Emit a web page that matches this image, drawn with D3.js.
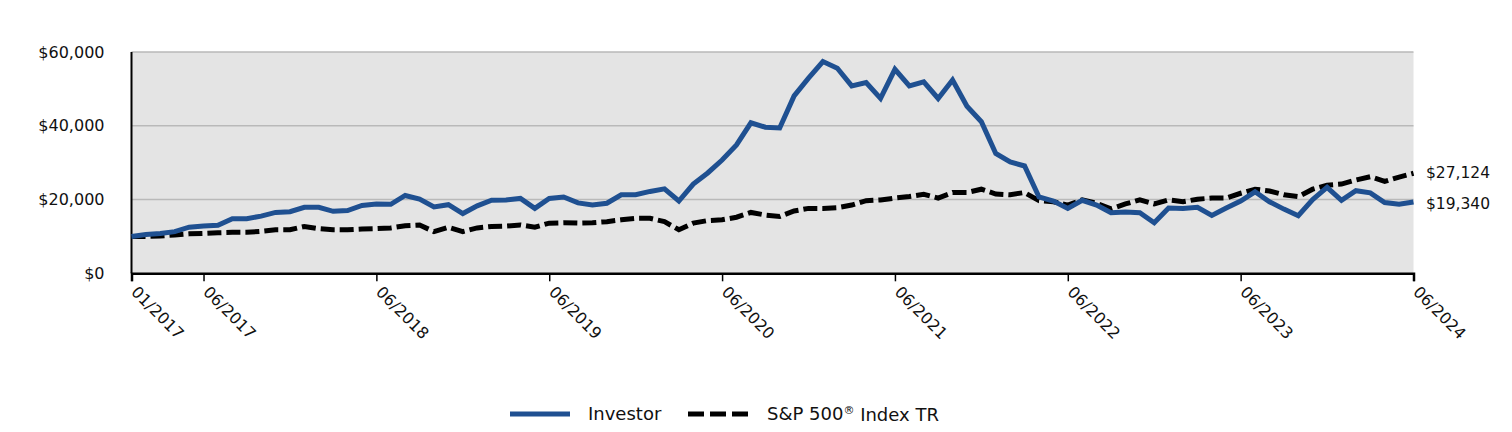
<!DOCTYPE html>
<html><head><meta charset="utf-8">
<script src="https://cdn.jsdelivr.net/npm/d3@7"></script>
<style>body{margin:0;background:#fff}svg{display:block}</style>
</head><body><svg id="c" width="1512" height="432"></svg>
<script>
const tickLabels = ["01/2017","06/2017","06/2018","06/2019","06/2020","06/2021","06/2022","06/2023","06/2024"];
const tickIndex = [0,5,17,29,41,53,65,77,89];
const yTicks = [0,20000,40000,60000];
const seriesNames = ["Investor","S&P 500\u00AE Index TR"];
const investor = [10000,10500,10800,11300,12500,12800,13000,14800,14800,15500,16500,16700,17900,17900,16800,17000,18400,18800,18700,21100,20100,18000,18600,16200,18300,19800,19900,20300,17600,20300,20700,19100,18500,19000,21300,21300,22200,22900,19600,24200,27200,30700,34800,40800,39600,39400,48100,52900,57400,55600,50800,51700,47400,55300,50800,51900,47400,52400,45300,41100,32500,30200,29100,20700,19600,17600,19800,18500,16400,16600,16400,13700,17700,17600,17900,15700,17700,19600,22100,19400,17400,15600,20000,23300,19800,22400,21800,19200,18700,19340];
const sp500 = [10000,10000,10100,10400,10700,10800,11000,11100,11100,11400,11800,11800,12700,12100,11800,11800,12000,12100,12300,12900,13100,11300,12500,11300,12300,12700,12800,13100,12500,13600,13700,13600,13700,14000,14500,14900,14900,14000,11800,13600,14300,14500,15200,16500,15800,15400,16900,17600,17600,17800,18500,19700,19900,20400,20800,21400,20400,21900,21900,22800,21500,21300,21900,19700,19400,18500,19900,19000,17500,18800,19900,18800,19900,19400,20100,20400,20400,21700,22800,22300,21300,20800,22800,23900,24200,25300,26200,24900,26100,27124];
const endLabels = ["$27,124","$19,340"];
const colors = ["#1f5091","#000000"];

const svg = d3.select("#c");
const font = "DejaVu Sans";
const m = {l:131.5, r:1413.5, t:52, b:273.3};
const x = d3.scaleLinear().domain([0, investor.length-1]).range([m.l, m.r]);
const y = d3.scaleLinear().domain([0,60000]).range([m.b, m.t]);

svg.append("rect").attr("x",m.l).attr("y",m.t).attr("width",m.r-m.l).attr("height",m.b-m.t).attr("fill","#e4e4e4");
svg.append("g").selectAll("line").data(yTicks.filter(d=>d>0)).join("line")
  .attr("x1",m.l).attr("x2",m.r).attr("y1",d=>y(d)).attr("y2",d=>y(d))
  .attr("stroke","#b9b9b9").attr("stroke-width",1.5);

// y labels
const yAxis = d3.axisLeft(y).tickValues(yTicks).tickSize(0).tickPadding(27).tickFormat(d=>"$"+d3.format(",")(d));
const gy = svg.append("g").attr("transform",`translate(${m.l},0)`).call(yAxis);
gy.select(".domain").remove();
gy.selectAll("text").attr("font-family",font).attr("font-size",16).attr("fill","#111");
svg.append("line").attr("x1",m.l).attr("x2",m.l).attr("y1",m.t).attr("y2",m.b).attr("stroke","#000").attr("stroke-width",2);

// x axis
const xAxis = d3.axisBottom(x).tickValues(tickIndex).tickSize(8).tickFormat((d,i)=>tickLabels[i]);
const gx = svg.append("g").attr("transform",`translate(0,${m.b})`).call(xAxis);
gx.select(".domain").attr("stroke","#000").attr("stroke-width",2.5);
gx.selectAll(".tick line").attr("stroke","#000").attr("stroke-width",1.5);
gx.selectAll("text").attr("font-family",font).attr("font-size",16).attr("fill","#111")
  .attr("text-anchor","start").attr("dy",0)
  .attr("transform","translate(6,12) rotate(45)");

const line = d3.line().x((d,i)=>x(i)).y(d=>y(d));
svg.append("path").datum(sp500).attr("d",line).attr("fill","none").attr("stroke",colors[1])
  .attr("stroke-width",5).attr("stroke-dasharray","14,5").attr("stroke-linejoin","miter");
svg.append("path").datum(investor).attr("d",line).attr("fill","none").attr("stroke",colors[0])
  .attr("stroke-width",5).attr("stroke-linejoin","miter");

// end labels
svg.append("text").attr("x",1426).attr("y",y(sp500[sp500.length-1])-1).attr("dy","0.35em")
  .attr("font-family",font).attr("font-size",15.5).attr("fill","#111").text(endLabels[0]);
svg.append("text").attr("x",1426).attr("y",y(investor[investor.length-1])+2).attr("dy","0.35em")
  .attr("font-family",font).attr("font-size",15.5).attr("fill","#111").text(endLabels[1]);

// legend
const lg = svg.append("g");
lg.append("line").attr("x1",510).attr("x2",570).attr("y1",414).attr("y2",414).attr("stroke",colors[0]).attr("stroke-width",5);
lg.append("text").attr("x",588).attr("y",414).attr("dy","0.35em").attr("font-family",font).attr("font-size",18).attr("fill","#111").text(seriesNames[0]);
lg.append("line").attr("x1",688).attr("x2",748).attr("y1",414).attr("y2",414).attr("stroke",colors[1]).attr("stroke-width",5).attr("stroke-dasharray","16,6");
const t2 = lg.append("text").attr("x",767).attr("y",414).attr("dy","0.35em").attr("font-family",font).attr("font-size",18).attr("fill","#111");
t2.append("tspan").text("S&P 500");
t2.append("tspan").attr("font-size",11).attr("dy","-0.6em").text("\u00AE");
t2.append("tspan").attr("dy","0.4em").text(" Index TR");
</script></body></html>
